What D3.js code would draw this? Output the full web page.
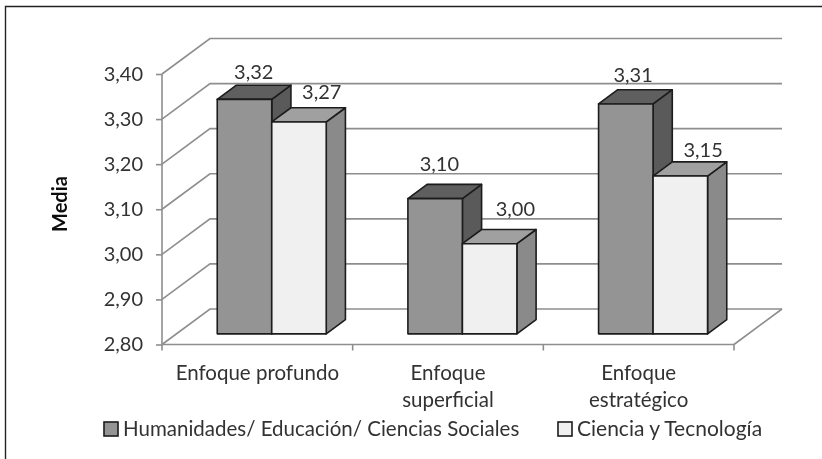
<!DOCTYPE html>
<html>
<head>
<meta charset="utf-8">
<script src="https://cdn.jsdelivr.net/npm/d3@7"></script>
<style>
  html, body { margin: 0; padding: 0; background: #fff; }
  svg { display: block; }
  text { font-family: Lato, "Open Sans", sans-serif; fill: #333; }
</style>
</head>
<body>
<svg id="chart" width="822" height="459"></svg>
<script>
const categories = [['Enfoque profundo'], ['Enfoque', 'superficial'], ['Enfoque', 'estratégico']];
const humanidades = [3.32, 3.10, 3.31];
const ciencia = [3.27, 3.00, 3.15];
const yTicks = [2.80, 2.90, 3.00, 3.10, 3.20, 3.30, 3.40];
const seriesNames = ['Humanidades/ Educación/ Ciencias Sociales', 'Ciencia y Tecnología'];

const comma = d3.format('.2f');
const label = v => comma(v).replace('.', ',');

const svg = d3.select('#chart');

// the reference is a soft scan, a very light blur gets the edges closer
svg.append('filter').attr('id', 'soft')
    .append('feGaussianBlur').attr('stdDeviation', 0.35);
const root = svg.append('g').attr('filter', 'url(#soft)');

// plot floor in front plane, the back wall sits up and to the right
const DX = 48, DY = -35.5;
const y = d3.scaleLinear().domain([2.8, 3.4]).range([344.5, 74]);
const x = d3.scaleBand().domain(d3.range(3)).range([162, 734]);
const barW = 54.5;
// bars sit between 30% and 70% of the depth
const front = 0.3, back = 0.7;

// frame, only top and left are in the picture
root.append('path')
    .attr('d', 'M5.5,459V6.5H822')
    .attr('fill', 'none')
    .attr('stroke', '#222')
    .attr('stroke-width', 1.4);

// walls
const grid = '#8e8e8e';
let walls = root.append('g').attr('fill', 'none').attr('stroke', grid).attr('stroke-width', 1.6);
for (let t of yTicks) {
    walls.append('polyline')
        .attr('points', [[x.range()[0], y(t)], [x.range()[0] + DX, y(t) + DY], [x.range()[1] + DX, y(t) + DY]].join(' '));
}
walls.append('line')
    .attr('x1', x.range()[1]).attr('y1', y(2.8))
    .attr('x2', x.range()[1] + DX).attr('y2', y(2.8) + DY);

// axes
const yAxis = d3.axisLeft(y).tickValues(yTicks).tickFormat(label).tickSize(6).tickPadding(13);
const yG = root.append('g').attr('transform', `translate(${x.range()[0]},0)`).call(yAxis);
const xEdges = d3.scaleOrdinal().domain([0, 1, 2, 3]).range([162, 352.67, 543.33, 734]);
const xG = root.append('g').attr('transform', `translate(0,${y(2.8)})`);
xG.append('line')
    .attr('x1', x.range()[0]).attr('x2', x.range()[1]);
xG.selectAll('.tick').data([0, 1, 2, 3]).join('line')
    .attr('class', 'tick')
    .attr('x1', d => xEdges(d)).attr('x2', d => xEdges(d))
    .attr('y1', 0).attr('y2', 6);
xG.selectAll('line').attr('stroke', grid).attr('stroke-width', 1.6);
yG.selectAll('line, path').attr('stroke', grid).attr('stroke-width', 1.6);
yG.select('.domain').attr('d', `M0,${y(3.4)}V${y(2.8)}`);
yG.selectAll('text').style('font-size', '20px').style('font-family', 'Lato').attr('fill', '#333');

// one 3D bar: front face, top and right side
function drawBar(v, x0, colors) {
    let yFront = y(v) + front * DY, yBase = y(2.8) + front * DY;
    let x1 = x0 + barW;
    let dx = (back - front) * DX, dy = (back - front) * DY;
    let g = root.append('g').attr('stroke', '#1c1c1c').attr('stroke-width', 1.6).attr('stroke-linejoin', 'round');
    g.append('polygon').attr('fill', colors.side)
        .attr('points', [[x1, yFront], [x1 + dx, yFront + dy], [x1 + dx, yBase + dy], [x1, yBase]].join(' '));
    g.append('polygon').attr('fill', colors.top)
        .attr('points', [[x0, yFront], [x0 + dx, yFront + dy], [x1 + dx, yFront + dy], [x1, yFront]].join(' '));
    g.append('rect').attr('fill', colors.face)
        .attr('x', x0).attr('y', yFront)
        .attr('width', barW).attr('height', yBase - yFront);
}

const darkBar = { face: '#949494', top: '#5e5e5e', side: '#5a5a5a' };
const lightBar = { face: '#f0f0f0', top: '#a0a0a0', side: '#8a8a8a' };

// the value labels were placed by hand in the original, so they need a nudge each
const darkLabelDx = [-18, -23, -20], darkLabelDy = [-31, -38, -32.5];
const lightLabelDx = [50, 53, 50], lightLabelDy = [-33.5, -38, -30];

categories.forEach((c, i) => {
    let mid = x(i) + x.bandwidth() / 2 + front * DX;
    drawBar(humanidades[i], mid - barW, darkBar);
    drawBar(ciencia[i], mid, lightBar);
    root.append('text').attr('x', mid + darkLabelDx[i]).attr('y', y(humanidades[i]) + darkLabelDy[i])
        .attr('text-anchor', 'middle').style('font-size', '20px').text(label(humanidades[i]));
    root.append('text').attr('x', mid + lightLabelDx[i]).attr('y', y(ciencia[i]) + lightLabelDy[i])
        .attr('text-anchor', 'middle').style('font-size', '20px').text(label(ciencia[i]));
    let t = root.append('text').attr('text-anchor', 'middle').style('font-size', '20.5px');
    c.forEach((line, k) => {
        t.append('tspan').attr('x', x(i) + x.bandwidth() / 2).attr('y', 380 + k * 27).text(line);
    });
});

root.append('text')
    .attr('transform', 'translate(67,204) rotate(-90)')
    .attr('text-anchor', 'middle')
    .style('font-size', '20px').style('font-weight', 700).style('fill', '#111')
    .text('Media');

// legend
const legendX = [104, 558];
const legendFont = ['20.5px', '21px'];
seriesNames.forEach((name, i) => {
    root.append('rect').attr('x', legendX[i]).attr('y', 422).attr('width', 14).attr('height', 14)
        .attr('fill', i ? lightBar.face : darkBar.face)
        .attr('stroke', '#1c1c1c').attr('stroke-width', 1.6);
    root.append('text').attr('x', legendX[i] + 19).attr('y', 436)
        .style('font-size', legendFont[i]).text(name);
});
</script>
</body>
</html>
